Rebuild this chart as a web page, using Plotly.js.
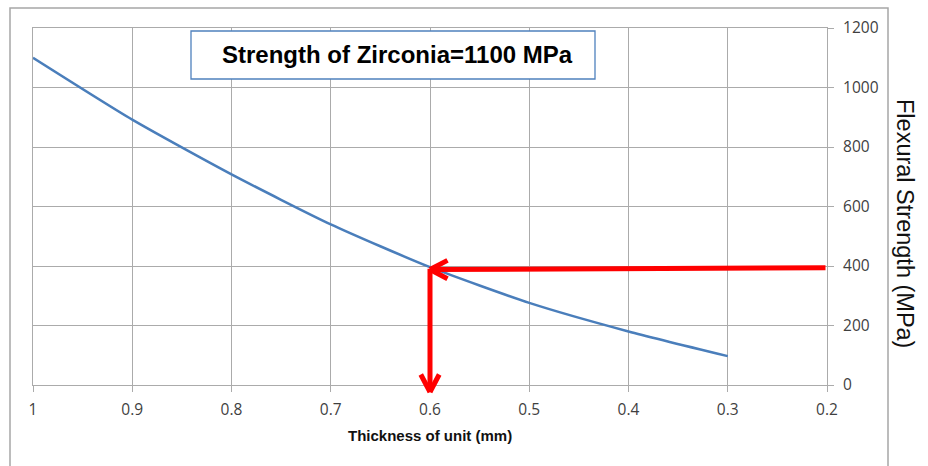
<!DOCTYPE html>
<html><head><meta charset="utf-8">
<script src="https://cdn.plot.ly/plotly-3.0.1.min.js"></script>
<style>html,body{margin:0;padding:0;background:#fff;} #chart{width:928px;height:466px;}</style>
</head><body><div id="chart"></div>
<script>
// ---- data ----
const thickness = [1.0, 0.9, 0.8, 0.7, 0.6, 0.5, 0.4, 0.3];
const strength  = [1100, 892, 708, 540, 396, 276, 180, 97];
const xTicks = [1, 0.9, 0.8, 0.7, 0.6, 0.5, 0.4, 0.3, 0.2];
const xTickLabels = ['1', '0.9', '0.8', '0.7', '0.6', '0.5', '0.4', '0.3', '0.2'];
const yTicks = [0, 200, 400, 600, 800, 1000, 1200];
const yTickLabels = ['0', '200', '400', '600', '800', '1000', '1200'];
const readH_x = [0.2, 0.6];   // horizontal read-off arrow: tail, head
const readH_y = [394, 388];
const readV_x = [0.6, 0.6];   // vertical read-off arrow: tail, head
const readV_y = [396, -24];
const boxTitle = 'Strength of Zirconia=1100 MPa';
const xTitle = 'Thickness of unit (mm)';
const yTitle = 'Flexural Strength (MPa)';

// ---- styling ----
const gridCol = '#ababab';
const tickFont = {family: 'Open Sans, Liberation Sans, Arial', size: 15.5, color: '#3f3f3f'};
const red = '#ff0000';
const L = 33, R = 101, T = 28, B = 81, W = 928, H = 466;
const pw = W - L - R, ph = H - T - B;
const px2x = p => (p - L) / pw;
const px2y = p => (H - B - p) / ph;

const traces = [{
  x: thickness, y: strength, type: 'scatter', mode: 'lines',
  line: {color: '#4a7ebb', width: 2.5, shape: 'spline', smoothing: 0.6},
  hoverinfo: 'skip', showlegend: false
}];

function arm(x, y, ax, ay, yshift) {
  return {x: x, y: y, xref: 'x', yref: 'y', ax: ax, ay: ay, axref: 'pixel', ayref: 'pixel',
          text: '', showarrow: true, arrowhead: 0, arrowwidth: 5, arrowcolor: red,
          standoff: 0, startstandoff: 0, yshift: yshift || 0};
}

const annotations = [
  {x: px2x(397), y: px2y(55), xref: 'paper', yref: 'paper', text: boxTitle, showarrow: false,
   xanchor: 'center', yanchor: 'middle',
   font: {family: 'Liberation Sans, Arial', size: 24, color: '#000', weight: 'bold'}},
  {x: 0.5, y: px2y(435), xref: 'paper', yref: 'paper', text: xTitle, showarrow: false,
   xanchor: 'center', yanchor: 'middle',
   font: {family: 'Liberation Sans, Arial', size: 15, color: '#111', weight: 'bold'}},
  {x: px2x(905), y: px2y(223), xref: 'paper', yref: 'paper', text: yTitle, showarrow: false,
   textangle: 90, xanchor: 'center', yanchor: 'middle',
   font: {family: 'Liberation Sans, Arial', size: 23.5, color: '#111'}},
  // horizontal shaft
  {x: readH_x[1], y: readH_y[1], xref: 'x', yref: 'y', ax: readH_x[0], ay: readH_y[0],
   axref: 'x', ayref: 'y', text: '', showarrow: true, arrowhead: 0, arrowwidth: 5,
   arrowcolor: red, standoff: 0, startstandoff: 0},
  // vertical shaft
  {x: readV_x[1], y: readV_y[1], xref: 'x', yref: 'y', ax: readV_x[0], ay: readV_y[0],
   axref: 'x', ayref: 'y', text: '', showarrow: true, arrowhead: 0, arrowwidth: 5,
   arrowcolor: red, standoff: 0, startstandoff: 0},
  // arrowhead arms
  arm(readH_x[1], readH_y[1], 19, -10),
  arm(readH_x[1], readH_y[1], 19, 10),
  arm(readV_x[1], 0, -10, -19, -7),
  arm(readV_x[1], 0, 10, -19, -7)
];

const shapes = [
  {type: 'rect', xref: 'paper', yref: 'paper', x0: px2x(10), x1: px2x(888), y0: px2y(480), y1: px2y(8),
   line: {color: '#a6a6a6', width: 1.5}, fillcolor: 'rgba(0,0,0,0)', layer: 'below'},
  {type: 'rect', xref: 'paper', yref: 'paper', x0: px2x(191), x1: px2x(595), y0: px2y(79), y1: px2y(31),
   line: {color: '#4f81bd', width: 1.3}, fillcolor: '#ffffff', layer: 'above'}
];

const layout = {
  width: W, height: H,
  margin: {l: L, r: R, t: T, b: B, pad: 0},
  paper_bgcolor: '#fff', plot_bgcolor: '#fff',
  showlegend: false,
  xaxis: {range: [1, 0.2], tickmode: 'array', tickvals: xTicks, ticktext: xTickLabels,
          showgrid: true, gridcolor: gridCol, gridwidth: 1, zeroline: false,
          showline: true, linecolor: gridCol, linewidth: 1, mirror: true,
          ticks: 'outside', ticklen: 6, tickcolor: gridCol, tickfont: tickFont,
          ticklabelstandoff: 4, fixedrange: true},
  yaxis: {range: [0, 1200], side: 'right', tickmode: 'array', tickvals: yTicks, ticktext: yTickLabels,
          showgrid: true, gridcolor: gridCol, gridwidth: 1, zeroline: false,
          showline: true, linecolor: gridCol, linewidth: 1, mirror: true,
          ticks: 'outside', ticklen: 6, tickcolor: gridCol, tickfont: tickFont,
          ticklabelstandoff: 6, fixedrange: true},
  annotations: annotations,
  shapes: shapes
};

Plotly.newPlot('chart', traces, layout, {displayModeBar: false, staticPlot: true});
</script>
</body></html>
